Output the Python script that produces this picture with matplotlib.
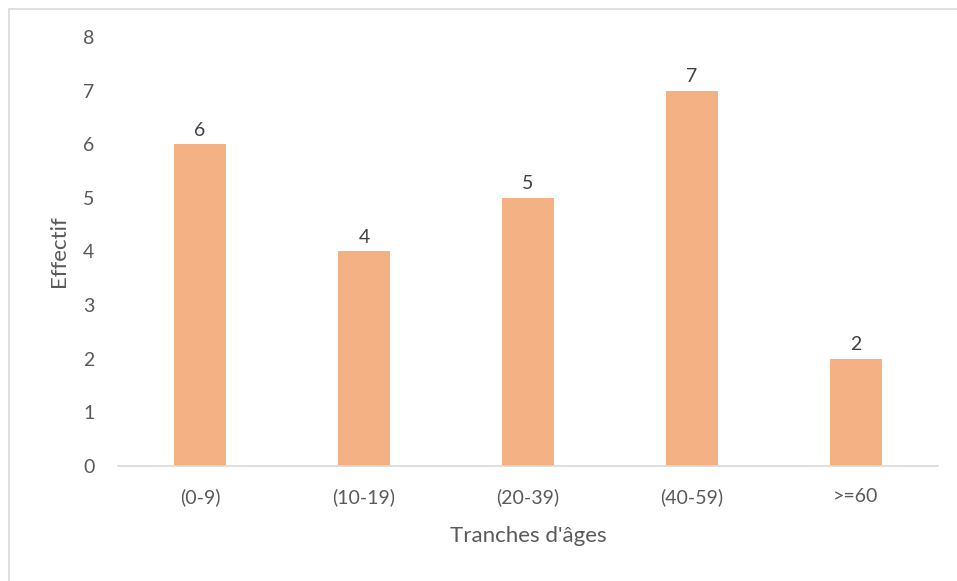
import matplotlib.pyplot as plt
from matplotlib.patches import Rectangle

categories = ['(0-9)', '(10-19)', '(20-39)', '(40-59)', '>=60']
effectifs = [6, 4, 5, 7, 2]
yticks = [0, 1, 2, 3, 4, 5, 6, 7, 8]

plt.rcParams['font.family'] = ['Lato', 'DejaVu Sans']
text_color = '#595959'

fig = plt.figure(figsize=(9.57, 5.81), dpi=100)
ax = fig.add_axes([0.1233, 0.198, 0.8567, 0.7383])

x = range(len(categories))
bars = ax.bar(x, effectifs, width=0.317, color='#F4B183')
for b, v in zip(bars, effectifs):
    ax.annotate(str(v), (b.get_x() + b.get_width() / 2, v), xytext=(0, 4),
                textcoords='offset points', ha='center', va='bottom',
                fontsize=14, color='#404040')

ax.set_xlim(-0.5, len(categories) - 0.5)
ax.set_ylim(0, 8)
ax.set_yticks(yticks)
ax.set_xticks(list(x))
ax.set_xticklabels(categories)
ax.tick_params(length=0, labelsize=14, colors=text_color)
ax.tick_params(axis='y', pad=17)
ax.tick_params(axis='x', pad=16)
for s in ['top', 'right', 'left']:
    ax.spines[s].set_visible(False)
ax.spines['bottom'].set_color('#D9D9D9')
ax.spines['bottom'].set_linewidth(1.2)

ax.set_ylabel('Effectif', fontsize=16, color=text_color, labelpad=10)
ax.set_xlabel("Tranches d'âges", fontsize=16, color=text_color, labelpad=14)

# chart area border
fig.patches.append(Rectangle((9 / 957, -0.1), 1.2, 1 - 9 / 581 + 0.1,
                             transform=fig.transFigure, fill=False,
                             edgecolor='#D9D9D9', linewidth=1.2))

fig.savefig('out.png', dpi=100)
